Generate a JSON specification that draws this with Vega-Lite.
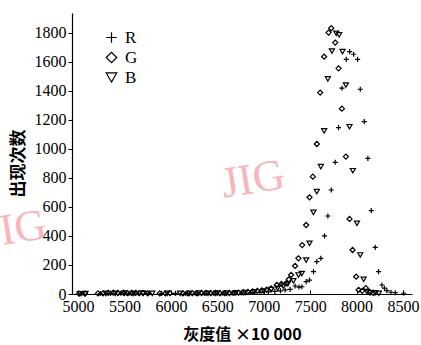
{
  "$schema": "https://vega.github.io/schema/vega-lite/v6.json",
  "width": 340,
  "height": 281,
  "autosize": {"type": "none"},
  "padding": {"left": 72, "top": 13, "right": 9, "bottom": 51},
  "background": "white",
  "config": {
    "view": {"stroke": null},
    "font": "Liberation Serif",
    "axis": {"labelOverlap": false, "labelSeparation": 0},
    "axisY": {"labelOverlap": false},
    "axisQuantitative": {"labelOverlap": false}
  },
  "layer": [
    {
      "data": {"values": [
        {"s": "G", "x": 5010, "y": 3}, {"s": "G", "x": 5075, "y": 2}, {"s": "G", "x": 5215, "y": 4}, {"s": "G", "x": 5270, "y": 5},
        {"s": "G", "x": 5325, "y": 8}, {"s": "G", "x": 5380, "y": 9}, {"s": "G", "x": 5430, "y": 7}, {"s": "G", "x": 5490, "y": 8},
        {"s": "G", "x": 5530, "y": 6}, {"s": "G", "x": 5580, "y": 7}, {"s": "G", "x": 5620, "y": 8}, {"s": "G", "x": 5660, "y": 6},
        {"s": "G", "x": 5700, "y": 7}, {"s": "G", "x": 5750, "y": 5}, {"s": "G", "x": 5880, "y": 4}, {"s": "G", "x": 5940, "y": 5},
        {"s": "G", "x": 5990, "y": 6}, {"s": "G", "x": 6130, "y": 4}, {"s": "G", "x": 6185, "y": 5}, {"s": "G", "x": 6230, "y": 6},
        {"s": "G", "x": 6280, "y": 5}, {"s": "G", "x": 6330, "y": 7}, {"s": "G", "x": 6380, "y": 8}, {"s": "G", "x": 6430, "y": 6},
        {"s": "G", "x": 6480, "y": 7}, {"s": "G", "x": 6530, "y": 5}, {"s": "G", "x": 6580, "y": 6}, {"s": "G", "x": 6630, "y": 7},
        {"s": "G", "x": 6680, "y": 8}, {"s": "G", "x": 6730, "y": 10}, {"s": "G", "x": 6780, "y": 12}, {"s": "G", "x": 6830, "y": 14},
        {"s": "G", "x": 6880, "y": 18}, {"s": "G", "x": 6930, "y": 22}, {"s": "G", "x": 6980, "y": 25}, {"s": "G", "x": 7030, "y": 30},
        {"s": "G", "x": 7080, "y": 38}, {"s": "G", "x": 7141, "y": 62}, {"s": "G", "x": 7190, "y": 70}, {"s": "G", "x": 7241, "y": 73},
        {"s": "G", "x": 7270, "y": 100}, {"s": "G", "x": 7295, "y": 131}, {"s": "G", "x": 7338, "y": 193}, {"s": "G", "x": 7374, "y": 246},
        {"s": "G", "x": 7414, "y": 337}, {"s": "G", "x": 7457, "y": 475}, {"s": "G", "x": 7493, "y": 666}, {"s": "G", "x": 7529, "y": 808},
        {"s": "G", "x": 7572, "y": 1033}, {"s": "G", "x": 7608, "y": 1387}, {"s": "G", "x": 7651, "y": 1634}, {"s": "G", "x": 7698, "y": 1800},
        {"s": "G", "x": 7727, "y": 1830}, {"s": "G", "x": 7770, "y": 1731}, {"s": "G", "x": 7806, "y": 1554}, {"s": "G", "x": 7842, "y": 1276},
        {"s": "G", "x": 7885, "y": 946}, {"s": "G", "x": 7924, "y": 517}, {"s": "G", "x": 7957, "y": 303}, {"s": "G", "x": 7996, "y": 119},
        {"s": "G", "x": 8022, "y": 28}, {"s": "G", "x": 8060, "y": 22}, {"s": "G", "x": 8100, "y": 40}, {"s": "G", "x": 8140, "y": 12},
        {"s": "G", "x": 8180, "y": 8},

        {"s": "R", "x": 5040, "y": 2}, {"s": "R", "x": 5240, "y": 3}, {"s": "R", "x": 5350, "y": 4}, {"s": "R", "x": 5460, "y": 5},
        {"s": "R", "x": 5550, "y": 4}, {"s": "R", "x": 5650, "y": 5}, {"s": "R", "x": 5760, "y": 4}, {"s": "R", "x": 5900, "y": 3},
        {"s": "R", "x": 6050, "y": 4}, {"s": "R", "x": 6160, "y": 3}, {"s": "R", "x": 6260, "y": 5}, {"s": "R", "x": 6360, "y": 4},
        {"s": "R", "x": 6460, "y": 6}, {"s": "R", "x": 6560, "y": 5}, {"s": "R", "x": 6660, "y": 6}, {"s": "R", "x": 6760, "y": 8},
        {"s": "R", "x": 6860, "y": 10}, {"s": "R", "x": 6960, "y": 12}, {"s": "R", "x": 7050, "y": 15}, {"s": "R", "x": 7120, "y": 18},
        {"s": "R", "x": 7180, "y": 22}, {"s": "R", "x": 7230, "y": 28}, {"s": "R", "x": 7284, "y": 32}, {"s": "R", "x": 7338, "y": 55},
        {"s": "R", "x": 7380, "y": 48}, {"s": "R", "x": 7411, "y": 50}, {"s": "R", "x": 7457, "y": 85}, {"s": "R", "x": 7493, "y": 96},
        {"s": "R", "x": 7536, "y": 154}, {"s": "R", "x": 7572, "y": 223}, {"s": "R", "x": 7615, "y": 246}, {"s": "R", "x": 7655, "y": 400},
        {"s": "R", "x": 7691, "y": 537}, {"s": "R", "x": 7727, "y": 716}, {"s": "R", "x": 7770, "y": 907}, {"s": "R", "x": 7806, "y": 1146},
        {"s": "R", "x": 7842, "y": 1417}, {"s": "R", "x": 7889, "y": 1616}, {"s": "R", "x": 7925, "y": 1669}, {"s": "R", "x": 7968, "y": 1651},
        {"s": "R", "x": 8011, "y": 1616}, {"s": "R", "x": 8040, "y": 1410}, {"s": "R", "x": 8083, "y": 1187}, {"s": "R", "x": 8122, "y": 934},
        {"s": "R", "x": 8158, "y": 574}, {"s": "R", "x": 8201, "y": 321}, {"s": "R", "x": 8237, "y": 154}, {"s": "R", "x": 8273, "y": 62},
        {"s": "R", "x": 8300, "y": 40}, {"s": "R", "x": 8327, "y": 23}, {"s": "R", "x": 8370, "y": 12}, {"s": "R", "x": 8417, "y": 9},
        {"s": "R", "x": 8507, "y": 5},

        {"s": "B", "x": 5020, "y": 2}, {"s": "B", "x": 5080, "y": 3}, {"s": "B", "x": 5300, "y": 4}, {"s": "B", "x": 5400, "y": 5},
        {"s": "B", "x": 5500, "y": 6}, {"s": "B", "x": 5600, "y": 5}, {"s": "B", "x": 5700, "y": 6}, {"s": "B", "x": 5800, "y": 4},
        {"s": "B", "x": 5960, "y": 5}, {"s": "B", "x": 6100, "y": 4}, {"s": "B", "x": 6200, "y": 5}, {"s": "B", "x": 6300, "y": 6},
        {"s": "B", "x": 6400, "y": 5}, {"s": "B", "x": 6500, "y": 7}, {"s": "B", "x": 6600, "y": 6}, {"s": "B", "x": 6700, "y": 8},
        {"s": "B", "x": 6800, "y": 10}, {"s": "B", "x": 6900, "y": 14}, {"s": "B", "x": 7000, "y": 20}, {"s": "B", "x": 7080, "y": 30},
        {"s": "B", "x": 7150, "y": 40}, {"s": "B", "x": 7210, "y": 55}, {"s": "B", "x": 7260, "y": 70}, {"s": "B", "x": 7320, "y": 90},
        {"s": "B", "x": 7374, "y": 131}, {"s": "B", "x": 7410, "y": 140}, {"s": "B", "x": 7457, "y": 234}, {"s": "B", "x": 7493, "y": 349},
        {"s": "B", "x": 7536, "y": 562}, {"s": "B", "x": 7572, "y": 705}, {"s": "B", "x": 7615, "y": 877}, {"s": "B", "x": 7651, "y": 1123},
        {"s": "B", "x": 7691, "y": 1481}, {"s": "B", "x": 7734, "y": 1673}, {"s": "B", "x": 7781, "y": 1795}, {"s": "B", "x": 7813, "y": 1784},
        {"s": "B", "x": 7849, "y": 1669}, {"s": "B", "x": 7885, "y": 1439}, {"s": "B", "x": 7924, "y": 1152}, {"s": "B", "x": 7960, "y": 849},
        {"s": "B", "x": 8004, "y": 487}, {"s": "B", "x": 8040, "y": 269}, {"s": "B", "x": 8076, "y": 101}, {"s": "B", "x": 8112, "y": 16},
        {"s": "B", "x": 8150, "y": 10}, {"s": "B", "x": 8200, "y": 8}, {"s": "B", "x": 8240, "y": 5}
      ]},
      "mark": {"type": "point", "filled": false, "strokeWidth": 1.2, "size": 26, "color": "black", "opacity": 1},
      "encoding": {
        "x": {
          "field": "x", "type": "quantitative",
          "scale": {"domain": [4935, 8597], "nice": false, "zero": false},
          "axis": {
            "title": "灰度值 ×10 000",
            "values": [5000, 5500, 6000, 6500, 7000, 7500, 8000, 8500],
            "format": "d", "labelOverlap": false,
            "grid": false, "tickSize": -4, "labelPadding": 8,
            "labelFont": "Liberation Serif", "labelFontSize": 16, "labelColor": "black",
            "domainColor": "black", "domainWidth": 1.2, "tickColor": "black",
            "titleFont": "Noto Sans CJK SC", "titleFontSize": 16, "titleFontWeight": "bold", "titleColor": "black", "titlePadding": 12
          }
        },
        "y": {
          "field": "y", "type": "quantitative",
          "scale": {"domain": [0, 1935], "nice": false},
          "axis": {
            "title": "出现次数",
            "values": [0, 200, 400, 600, 800, 1000, 1200, 1400, 1600, 1800],
            "tickCount": 10,
            "format": "d", "labelOverlap": false,
            "grid": false, "tickSize": 4, "labelPadding": 2,
            "labelFont": "Liberation Serif", "labelFontSize": 16, "labelColor": "black",
            "domainColor": "black", "domainWidth": 1.2, "tickColor": "black",
            "titleFont": "Noto Sans CJK SC", "titleFontSize": 17, "titleFontWeight": "bold", "titleColor": "black", "titlePadding": 7,
            "titleY": 150
          }
        },
        "shape": {
          "field": "s", "type": "nominal",
          "scale": {"domain": ["R", "G", "B"], "range": ["M-1,0H1M0,-1V1", "diamond", "triangle-down"]},
          "legend": {
            "title": null, "orient": "none", "legendX": 31, "legendY": 16,
            "symbolSize": 110, "symbolStrokeWidth": 1.2, "symbolStrokeColor": "black", "symbolFillColor": "transparent",
            "labelFont": "Liberation Serif", "labelFontSize": 17, "labelColor": "black",
            "labelOffset": 5, "rowPadding": 2, "padding": 0
          }
        }
      }
    },
    {
      "data": {"values": [{"x": 6885, "y": 785, "t": "JIG"}, {"x": 4317, "y": 441, "t": "JIG"}]},
      "mark": {"type": "text", "font": "Liberation Serif", "fontSize": 44, "color": "#f7b6bb", "angle": -9},
      "encoding": {
        "x": {"field": "x", "type": "quantitative", "scale": {"domain": [4935, 8597], "nice": false, "zero": false}},
        "y": {"field": "y", "type": "quantitative", "scale": {"domain": [0, 1935], "nice": false}},
        "text": {"field": "t"}
      }
    }
  ]
}
